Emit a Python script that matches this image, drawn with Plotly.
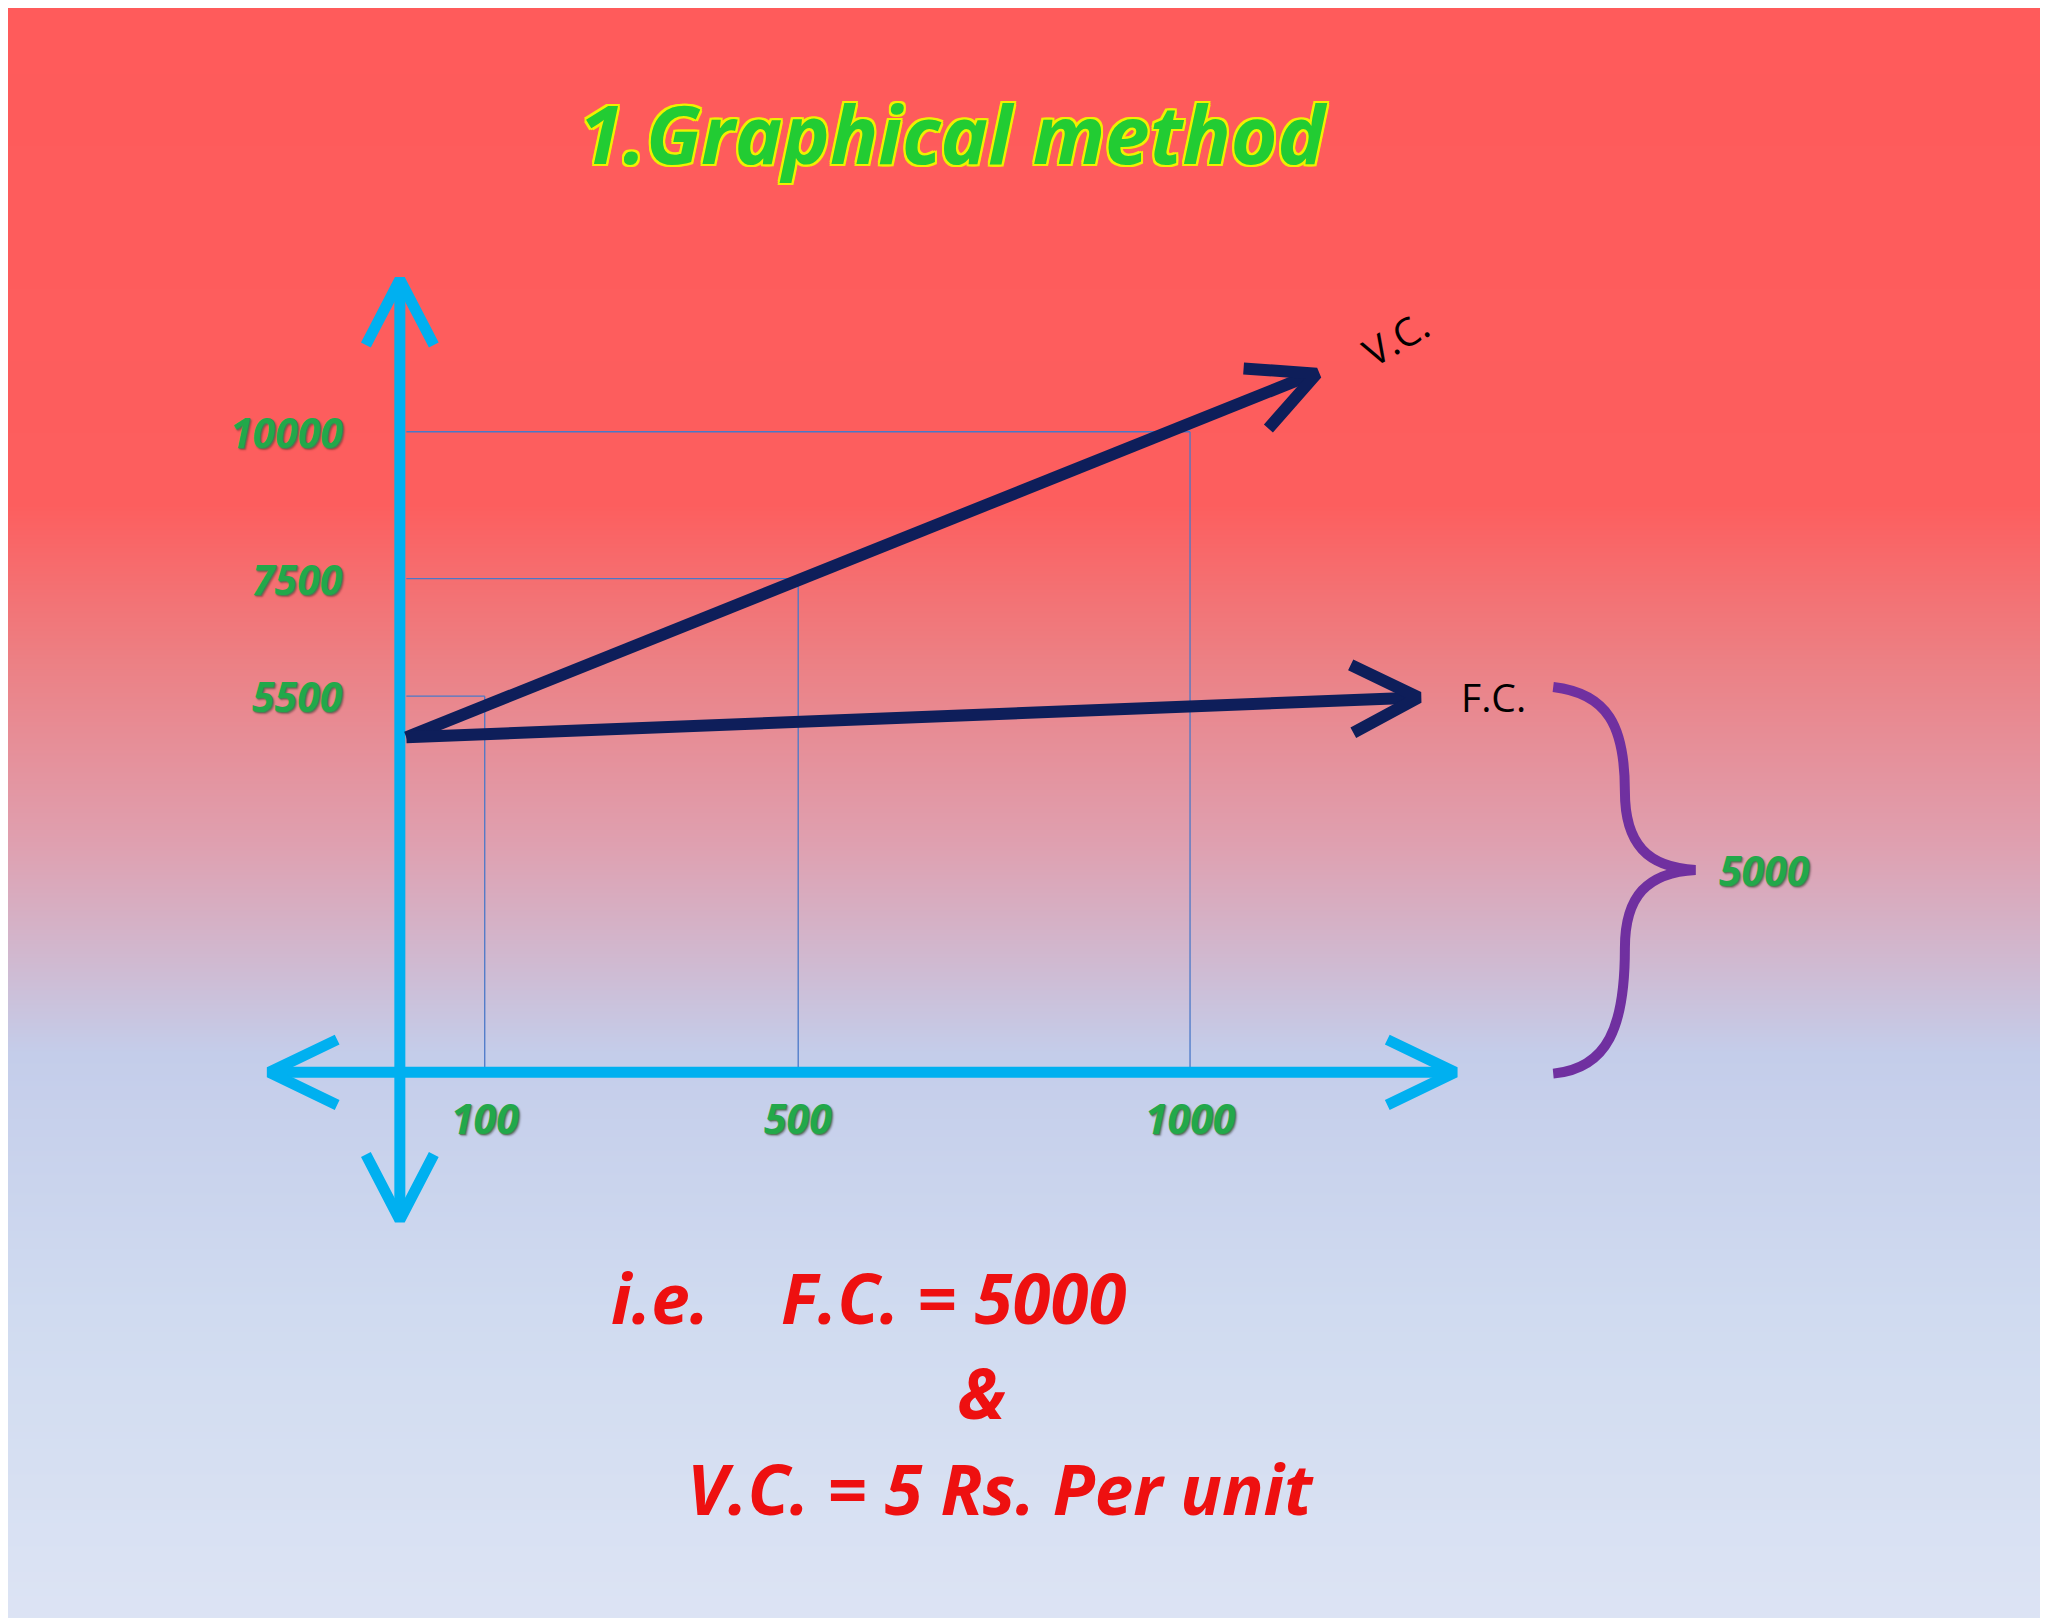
import plotly.graph_objects as go

W, H = 2048, 1618
S = W / 1568  # reference drawn at 1568 wide

# ── data ──
x_ticks = [100, 500, 1000]
y_ticks = [5500, 7500, 10000]
y_tick_labels = ['5500', '7500', '10000']
x_tick_labels = ['100', '500', '1000']
vc_x = [0, 1158]
vc_y = [4800, 10990]
fc_x = [0, 1292]
fc_y = [4800, 5480]
axis_y = -900

# pixel (ref) -> data helpers for decorations
def px2x(p): return (p - 305) / 0.6
def px2y(p): return 5500 - (p - 527) / 0.045

XR = [px2x(0), px2x(1568)]
YR = [px2y(1239), px2y(0)]

fig = go.Figure()

# background gradient
bg_y = [px2y(p) for p in [1300, 1000, 800, 640, 500, 380, -60]]
fig.add_trace(go.Heatmap(
    x=[px2x(-60), px2x(1630)], y=bg_y, z=[[i, i] for i in range(7)],
    colorscale=[[0, '#E0E6F5'], [1/6, '#D0DBF0'], [2/6, '#C4CDEA'],
                [3/6, '#DFA0B0'], [4/6, '#EC8084'], [5/6, '#FD5E5E'], [1, '#FF5A5A']],
    showscale=False, hoverinfo='skip', zsmooth='best'))

GRID = '#4A78C8'
# guide lines from each axis to the point
for xv, yv in zip(x_ticks, y_ticks):
    fig.add_trace(go.Scatter(x=[0, xv], y=[yv, yv], mode='lines',
                             line=dict(color=GRID, width=1.3), hoverinfo='skip'))
    fig.add_trace(go.Scatter(x=[xv, xv], y=[axis_y, yv], mode='lines',
                             line=dict(color=GRID, width=1.3), hoverinfo='skip'))

CY = '#00B0F0'
def chevron(tipx, tipy, a1, a2, color, width):
    fig.add_trace(go.Scatter(x=[a1[0], tipx, a2[0]], y=[a1[1], tipy, a2[1]], mode='lines',
                             line=dict(color=color, width=width), hoverinfo='skip'))

# axes
fig.add_trace(go.Scatter(x=[px2x(300)] * 2, y=[px2y(212), px2y(925)], mode='lines',
                         line=dict(color=CY, width=11), hoverinfo='skip'))
fig.add_trace(go.Scatter(x=[px2x(203), px2x(1105)], y=[px2y(815)] * 2, mode='lines',
                         line=dict(color=CY, width=11), hoverinfo='skip'))
chevron(px2x(300), px2y(208), (px2x(274), px2y(258)), (px2x(326), px2y(258)), CY, 11)
chevron(px2x(300), px2y(928), (px2x(274), px2y(878)), (px2x(326), px2y(878)), CY, 11)
chevron(px2x(200), px2y(815), (px2x(252), px2y(790)), (px2x(252), px2y(840)), CY, 11)
chevron(px2x(1108), px2y(815), (px2x(1056), px2y(790)), (px2x(1056), px2y(840)), CY, 11)

NV = '#0E1E5A'
fig.add_trace(go.Scatter(x=vc_x, y=vc_y, mode='lines', line=dict(color=NV, width=12), hoverinfo='skip'))
fig.add_trace(go.Scatter(x=fc_x, y=fc_y, mode='lines', line=dict(color=NV, width=12), hoverinfo='skip'))
chevron(px2x(1002), px2y(280), (px2x(946), px2y(276)), (px2x(965), px2y(322)), NV, 12)
chevron(px2x(1080), px2y(528), (px2x(1028), px2y(503)), (px2x(1030), px2y(555)), NV, 12)

# brace
def P(x, y): return f'{x/1568:.4f},{1 - y/1239:.4f}'
brace = (f'M {P(1183,520)} C {P(1225,525)} {P(1238,550)} {P(1238,600)} '
         f'C {P(1238,640)} {P(1255,658)} {P(1292,660)} '
         f'C {P(1255,662)} {P(1238,680)} {P(1238,720)} '
         f'C {P(1238,780)} {P(1225,812)} {P(1183,816)}')
fig.add_shape(type='path', path=brace, xref='paper', yref='paper',
              line=dict(color='#7030A0', width=10))

FONT = 'Open Sans'
green_shadow = '1px 1px 1px #557755, 2px 2px 2px rgba(0,0,0,0.3)'
ann = []
for yv, lab in zip(y_ticks, y_tick_labels):
    ann.append(dict(x=px2x(258), y=yv, text=f'<b><i>{lab}</i></b>', xanchor='right',
                    showarrow=False, font=dict(size=int(32 * S), color='#22A84A', family=FONT,
                                               shadow=green_shadow)))
for xv, lab in zip(x_ticks, x_tick_labels):
    ann.append(dict(x=xv, y=px2y(850), text=f'<b><i>{lab}</i></b>', showarrow=False,
                    font=dict(size=int(32 * S), color='#22A84A', family=FONT, shadow=green_shadow)))
ann.append(dict(x=px2x(1345), y=px2y(660), text='<b><i>5000</i></b>', showarrow=False,
                font=dict(size=int(32 * S), color='#22A84A', family=FONT, shadow=green_shadow)))
ann.append(dict(x=px2x(1062), y=px2y(252), text='V.C.', showarrow=False, textangle=-30,
                font=dict(size=int(30 * S), color='black', family=FONT)))
ann.append(dict(x=px2x(1137), y=px2y(527), text='F.C.', showarrow=False,
                font=dict(size=int(30 * S), color='black', family=FONT)))
yel = ('-2px -2px 0 #F0F000, 2px -2px 0 #F0F000, -2px 2px 0 #F0F000, 2px 2px 0 #F0F000, '
       '0 2px 0 #F0F000, 0 -2px 0 #F0F000, 2px 0 0 #F0F000, -2px 0 0 #F0F000')
ann.append(dict(x=px2x(724), y=px2y(95), text='<b><i>1.Graphical method</i></b>', showarrow=False,
                font=dict(size=int(62 * S), color='#22CC33', family=FONT, shadow=yel)))
red = dict(size=int(53 * S), color='#EE1010', family=FONT)
ann.append(dict(x=px2x(460), y=px2y(987), text='<b><i>i.e.    F.C. = 5000</i></b>', xanchor='left',
                showarrow=False, font=red))
ann.append(dict(x=px2x(745), y=px2y(1060), text='<b><i>&</i></b>', showarrow=False, font=red))
ann.append(dict(x=px2x(518), y=px2y(1133), text='<b><i>V.C. = 5 Rs. Per unit</i></b>', xanchor='left',
                showarrow=False, font=red))

fig.update_layout(
    width=W, height=H, margin=dict(l=0, r=0, t=0, b=0), showlegend=False,
    paper_bgcolor='white', plot_bgcolor='white', annotations=ann,
    xaxis=dict(range=XR, visible=False, fixedrange=True),
    yaxis=dict(range=YR, visible=False, fixedrange=True),
)
fig.write_html('out.html')
